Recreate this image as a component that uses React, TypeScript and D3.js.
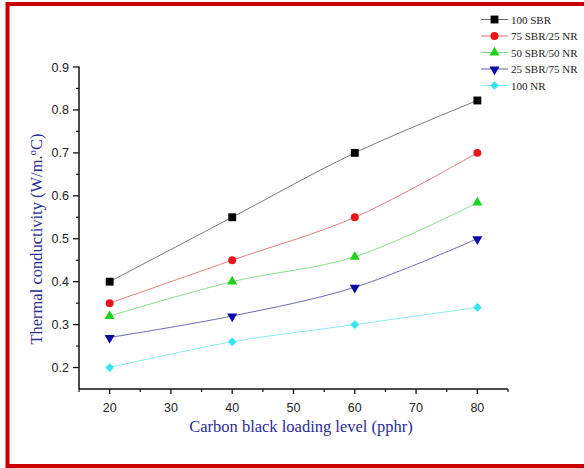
import React from "react";
import * as d3 from "d3";

const loadings = [20, 40, 60, 80];
const seriesNames = ["100 SBR", "75 SBR/25 NR", "50 SBR/50 NR", "25 SBR/75 NR", "100 NR"];
const sbr100 = [0.4, 0.55, 0.7, 0.822];
const sbr75nr25 = [0.35, 0.45, 0.55, 0.7];
const sbr50nr50 = [0.32, 0.4, 0.458, 0.584];
const sbr25nr75 = [0.27, 0.32, 0.387, 0.5];
const nr100 = [0.2, 0.26, 0.3, 0.34];
const xTicks = [20, 30, 40, 50, 60, 70, 80];
const xMinor = [15, 25, 35, 45, 55, 65, 75, 85];
const yTicks = [0.2, 0.3, 0.4, 0.5, 0.6, 0.7, 0.8, 0.9];
const yMinor = [0.25, 0.35, 0.45, 0.55, 0.65, 0.75, 0.85];

const markerColors = ["#000000", "#e8161b", "#1ed21e", "#0a0aa8", "#33e6ee"];
const lineColors = ["#6a6a6a", "#d87070", "#7ad87a", "#5a5aa8", "#7ee8ee"];

const allSeries = [sbr100, sbr75nr25, sbr50nr50, sbr25nr75, nr100];

function Marker({ i, x, y }: { i: number; x: number; y: number }) {
  if (i === 3) {
    const p = d3.symbol().type(d3.symbolTriangle).size(44)() as string;
    return <path d={p} transform={`translate(${x},${y + 0.5}) rotate(180)`} fill={markerColors[i]} />;
  }
  if (i === 4) {
    const p = d3.symbol().type(d3.symbolSquare).size(38)() as string;
    return <path d={p} transform={`translate(${x},${y}) rotate(45)`} fill={markerColors[i]} />;
  }
  const type = i === 0 ? d3.symbolSquare : i === 1 ? d3.symbolCircle : d3.symbolTriangle;
  const size = i === 0 ? 62 : i === 1 ? 50 : 44;
  const p = d3.symbol().type(type).size(size)() as string;
  return <path d={p} transform={`translate(${x},${y})`} fill={markerColors[i]} />;
}

export default function App() {
  const W = 584, H = 468;
  const x = d3.scaleLinear().domain([15, 85]).range([79, 508]);
  const y = d3.scaleLinear().domain([0.15, 0.9]).range([389, 67]);
  const line = d3
    .line<number>()
    .x((_, j) => x(loadings[j]))
    .y((d) => y(d))
    .curve(d3.curveCatmullRom.alpha(0.5));

  const tickFont = "Arial, 'Liberation Sans', sans-serif";
  const titleFont = "'Times New Roman', 'Liberation Serif', serif";
  const axisY = y(0.15);
  const axisX = x(15);

  return (
    <svg width={W} height={H} style={{ position: "absolute", left: 0, top: 0, background: "#fff" }}>
      <rect x={0} y={0} width={W} height={H} fill="#fff" />
      {/* red frame */}
      <rect x={7.5} y={4} width={W + 20} height={462} fill="none" stroke="#c80000" strokeWidth={4} />

      {/* series lines */}
      {allSeries.map((s, i) => (
        <path key={"l" + i} d={line(s) as string} fill="none" stroke={lineColors[i]} strokeWidth={0.9} />
      ))}
      {/* markers */}
      {allSeries.map((s, i) =>
        s.map((v, j) => <Marker key={`m${i}-${j}`} i={i} x={x(loadings[j])} y={y(v)} />)
      )}

      {/* axes */}
      <line x1={axisX} x2={x(85)} y1={axisY} y2={axisY} stroke="#111" strokeWidth={1.5} />
      <line x1={axisX} x2={axisX} y1={axisY} y2={y(0.9) - 0.5} stroke="#111" strokeWidth={1.5} />
      {xTicks.map((t) => (
        <g key={"xt" + t}>
          <line x1={x(t)} x2={x(t)} y1={axisY} y2={axisY + 5} stroke="#111" strokeWidth={1.3} />
          <text x={x(t)} y={axisY + 23} textAnchor="middle" fontFamily={tickFont} fontSize={12.5} fill="#222">
            {t}
          </text>
        </g>
      ))}
      {xMinor.map((t) => (
        <line key={"xm" + t} x1={x(t)} x2={x(t)} y1={axisY} y2={axisY + 3} stroke="#111" strokeWidth={1.2} />
      ))}
      {yTicks.map((t) => (
        <g key={"yt" + t}>
          <line x1={axisX - 6} x2={axisX} y1={y(t)} y2={y(t)} stroke="#111" strokeWidth={1.3} />
          <text x={axisX - 10} y={y(t) + 4.5} textAnchor="end" fontFamily={tickFont} fontSize={12.5} fill="#222">
            {t.toFixed(1)}
          </text>
        </g>
      ))}
      {yMinor.map((t) => (
        <line key={"ym" + t} x1={axisX - 3} x2={axisX} y1={y(t)} y2={y(t)} stroke="#111" strokeWidth={1.2} />
      ))}

      {/* axis titles */}
      <text x={301} y={432} textAnchor="middle" fontFamily={titleFont} fontSize={16.5} fill="#2b2b96">
        Carbon black loading level (pphr)
      </text>
      <text
        transform={`translate(42,239) rotate(-90)`}
        textAnchor="middle"
        fontFamily={titleFont}
        fontSize={16.5}
        fill="#2b2b96"
      >
        Thermal conductivity (W/m.
        <tspan dy={-6} fontSize={11}>o</tspan>
        <tspan dy={6}>C)</tspan>
      </text>

      {/* legend */}
      {seriesNames.map((n, i) => {
        const ly = 19.5 + i * 16.5;
        return (
          <g key={"lg" + i}>
            <line x1={481} x2={508} y1={ly} y2={ly} stroke={lineColors[i]} strokeWidth={1} />
            <Marker i={i} x={494.5} y={ly} />
            <text x={511} y={ly + 4} fontFamily={titleFont} fontSize={11} fill="#222">
              {n}
            </text>
          </g>
        );
      })}
    </svg>
  );
}
